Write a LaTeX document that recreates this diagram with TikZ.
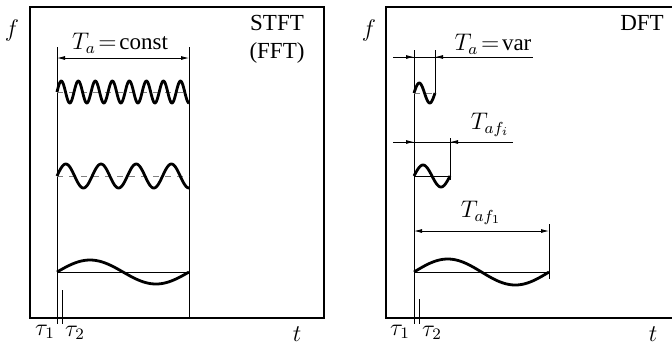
\documentclass[tikz,border=0pt]{standalone}
\usepackage{fontspec}
\setmainfont{Liberation Serif}
\usetikzlibrary{arrows.meta}
\tikzstyle{frame}=[line width=1pt]
\tikzstyle{win}=[line width=0.4pt]
\tikzstyle{wave}=[line width=1.4pt,line join=round]
\tikzstyle{midline}=[line width=0.3pt,gray,dashed]
\tikzstyle{tip}=[-{Latex[length=4pt,width=2pt]},line width=0.4pt]
\tikzstyle{dim}=[{Latex[length=4pt,width=2pt]}-{Latex[length=4pt,width=2pt]},line width=0.4pt]
\tikzstyle{lbl}=[font=\fontsize{11.5}{13}\selectfont,inner sep=0pt]

\begin{document}
\begin{tikzpicture}[x=0.5pt,y=-0.5pt]
\useasboundingbox (0,0) rectangle (672,344);
% STFT panel
\draw[frame] (30,7) rectangle (324,318);
\coordinate (sa) at (57,47);   \coordinate (sab) at (57,324);
\coordinate (sb) at (189,47);  \coordinate (sbb) at (189,318);
\coordinate (sc) at (62,290);  \coordinate (scb) at (62,324);
\draw[win] (sa) -- (sab);
\draw[win] (sb) -- (sbb);
\draw[win] (sc) -- (scb);
\coordinate (sd1) at (57,58);  \coordinate (sd2) at (189,58);
\draw[dim] (sd1) -- (sd2);
\draw[midline] (57,92) -- (189,92);
\draw[midline] (57,176) -- (189,176);
\draw[win] (57,272) -- (189,272);
\draw[wave] plot[domain=57:189,samples=240,smooth] (\x,{92-11*sin((\x-57)/132*360*7.75)});
\draw[wave] plot[domain=57:189,samples=160,smooth] (\x,{176-12*sin((\x-57)/132*360*3.75)});
\draw[wave] plot[domain=57:189,samples=80,smooth] (\x,{272-12*sin((\x-57)/132*360)});
\node[lbl] (sf) at (12,30) {$f$};
\node[lbl] (sta) at (120,43) {$T_a\!=\!\mathrm{const}$};
\node[lbl] (stft) at (277,23) {STFT};
\node[lbl] (sfft) at (277,53) {(FFT)};
\node[lbl] (st1) at (45,332) {$\tau_1$};
\node[lbl] (st2) at (75,333) {$\tau_2$};
\node[lbl] (st) at (297,334) {$t$};
% DFT panel
\draw[frame] (672,7) -- (386,7) -- (386,318) -- (672,318);
\coordinate (da) at (414,50);  \coordinate (dab) at (414,324);
\coordinate (dc) at (419,299); \coordinate (dcb) at (419,324);
\coordinate (d1) at (435,50);  \coordinate (d1b) at (435,93);
\coordinate (d2) at (450,138); \coordinate (d2b) at (450,180);
\coordinate (d3) at (549,224); \coordinate (d3b) at (549,279);
\draw[win] (da) -- (dab);
\draw[win] (dc) -- (dcb);
\draw[win] (d1) -- (d1b);
\draw[win] (d2) -- (d2b);
\draw[win] (d3) -- (d3b);
% dimension lines
\coordinate (e1) at (393,57);  \coordinate (e2) at (414,57);
\coordinate (e3) at (435,57);  \coordinate (e4) at (453,57);
\coordinate (e5) at (533,57);
\draw[win] (e1) -- (e5);
\draw[tip] (e1) -- (e2);
\draw[tip] (e4) -- (e3);
\coordinate (g1) at (393,142); \coordinate (g2) at (414,142);
\coordinate (g3) at (450,142); \coordinate (g4) at (468,142);
\coordinate (g5) at (513,142);
\draw[win] (g1) -- (g5);
\draw[tip] (g1) -- (g2);
\draw[tip] (g4) -- (g3);
\coordinate (h1) at (414,231); \coordinate (h2) at (549,231);
\draw[dim] (h1) -- (h2);
\draw[midline] (414,93) -- (435,93);
\draw[win] (414,176) -- (450,176);
\draw[win] (414,272) -- (549,272);
\draw[wave] plot[domain=414:435,samples=40,smooth] (\x,{93-10*sin((\x-414)/21*360)});
\draw[wave] plot[domain=414:450,samples=50,smooth] (\x,{176-11*sin((\x-414)/36*360)});
\draw[wave] plot[domain=414:549,samples=80,smooth] (\x,{272-13*sin((\x-414)/135*360)});
\node[lbl] (df) at (369,30) {$f$};
\node[lbl] (dft) at (642,23) {DFT};
\node[lbl] (dta) at (493,44) {$T_a\!=\!\mathrm{var}$};
\node[lbl] (dtai) at (490,125) {$T_{af_i}$};
\node[lbl] (dta1) at (481,213) {$T_{af_1}$};
\node[lbl] (dt1) at (400,332) {$\tau_1$};
\node[lbl] (dt2) at (432,333) {$\tau_2$};
\node[lbl] (dt) at (653,334) {$t$};
\end{tikzpicture}
\end{document}
